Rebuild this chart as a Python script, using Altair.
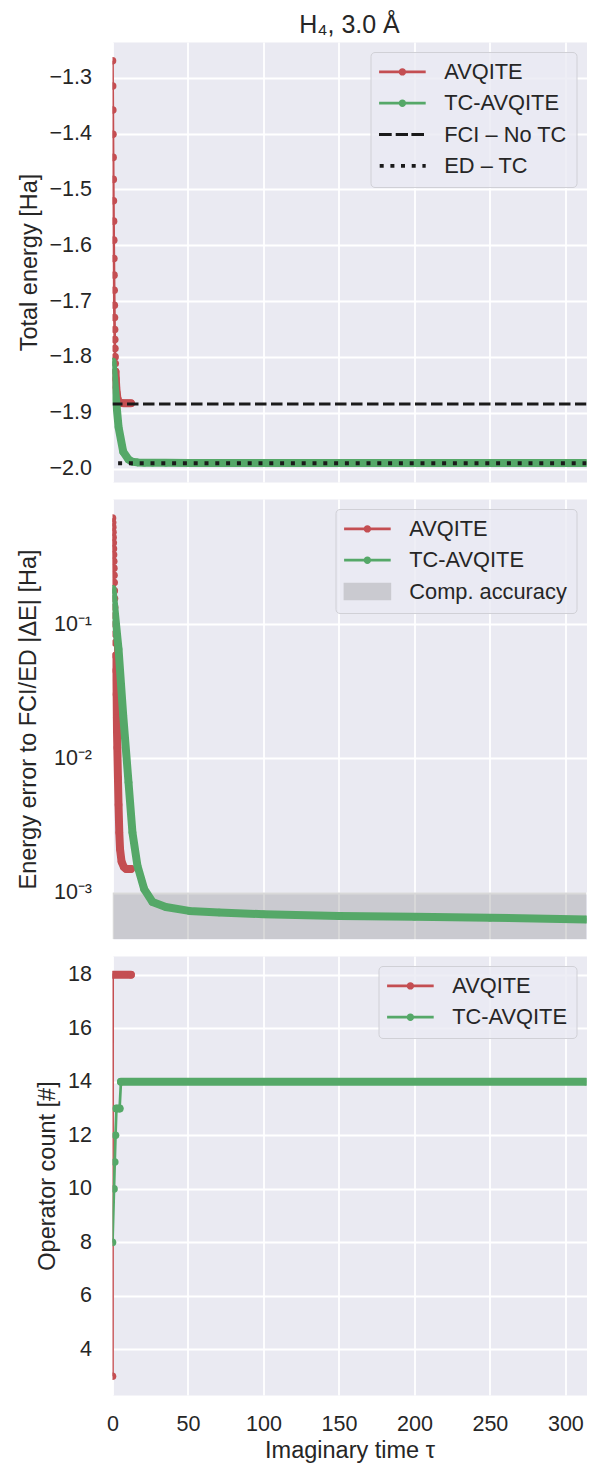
import altair as alt
import pandas as pd

FONT = "Liberation Sans"
INK = "#262626"
RED = "#C44E52"
GREEN = "#55A868"
BG = "#EAEAF2"

# Reference energies (Ha)
FCI_NO_TC = -1.8844
ED_TC = -1.9905

# AVQITE trajectory: imaginary time and total energy
avq_tau = [0.0, 0.1, 0.2, 0.3, 0.4, 0.5, 0.6, 0.7, 0.8, 0.9, 1.0, 1.1, 1.2, 1.3, 1.4, 1.5, 1.6, 1.7, 1.8,
           2.0, 2.2, 2.5, 2.8, 3.2, 3.6, 4.0, 4.5, 5.0, 6.0, 7.5, 9.0, 10.5, 12.2]
avq_energy = [-1.2695, -1.3149, -1.3579, -1.4014, -1.4427, -1.4821, -1.5204, -1.5568, -1.5909, -1.6237,
              -1.6536, -1.6805, -1.7074, -1.7294, -1.7509, -1.7688, -1.7849, -1.8000, -1.8120,
              -1.8264, -1.8394, -1.8544, -1.8644, -1.8724, -1.8772, -1.8799, -1.8816, -1.8823,
              -1.8827, -1.88285, -1.8829, -1.8829, -1.8829]
# 0 = sparse markers, 1 = densely sampled stretch
avq_seg = [0] * 19 + [1] * 14

# TC-AVQITE trajectory
tc_tau = [0.0, 4.0, 7.1, 10.6, 13.2, 16.5, 21.0, 26.5, 35.3, 50.8, 70.6, 100.0, 150.0, 200.0, 250.0, 314.0]
tc_energy = [-1.8085, -1.9254, -1.9697, -1.98387, -1.98769, -1.98891, -1.98944, -1.98965, -1.98972,
             -1.98977, -1.98979, -1.98981, -1.98983, -1.98984, -1.98985, -1.98987]
tc_seg = [1] * 16

# Operator counts
avq_ops_tau = [0.0, 0.1, 12.2]
avq_ops = [3, 18, 18]
avq_ops_seg = [0, 1, 1]
tc_ops_tau = [0.0, 1.0, 1.5, 2.0, 2.6, 4.7, 5.6, 314.0]
tc_ops = [8, 10, 11, 12, 13, 13, 14, 14]
tc_ops_seg = [0, 0, 0, 0, 1, 1, 2, 2]

# Accuracy band in the error panel
acc_lo = 1e-5
acc_hi = 1e-3

TAU_MAX = 314
W = 474

# Legend glyphs (custom symbol paths, unit = sqrt(size)/2 px)
LINE_DOT = ("M-2.33,-0.135L2.33,-0.135L2.33,0.135L-2.33,0.135Z "
            "M0.37,0A0.37 0.37 0 1 1 -0.37,0A0.37 0.37 0 1 1 0.37,0Z")
DASHED = ("M-2.34,-0.15L-1.07,-0.15L-1.07,0.15L-2.34,0.15Z "
          "M-0.67,-0.15L0.56,-0.15L0.56,0.15L-0.67,0.15Z "
          "M0.9,-0.15L2.16,-0.15L2.16,0.15L0.9,0.15Z")
DOTTED = ("M-2.27,-0.19L-1.87,-0.19L-1.87,0.19L-2.27,0.19Z "
          "M-1.2,-0.19L-0.8,-0.19L-0.8,0.19L-1.2,0.19Z "
          "M-0.14,-0.19L0.26,-0.19L0.26,0.19L-0.14,0.19Z "
          "M0.93,-0.19L1.33,-0.19L1.33,0.19L0.93,0.19Z "
          "M2.0,-0.19L2.33,-0.19L2.33,0.19L2.0,0.19Z")
RECT = "M-2.38,-0.87L2.38,-0.87L2.38,0.87L-2.38,0.87Z"


def x_enc(show):
    if show:
        axis = alt.Axis(values=[0, 50, 100, 150, 200, 250, 300], title="Imaginary time τ",
                        labelPadding=18, titlePadding=4)
    else:
        axis = alt.Axis(values=[0, 50, 100, 150, 200, 250, 300], labels=False, title=None)
    return alt.X("tau:Q", scale=alt.Scale(domain=[0, TAU_MAX], nice=False, zero=False), axis=axis)


def series(df, color, x, y):
    base = alt.Chart(df).encode(x=x, y=y)
    thin = base.mark_line(color=color, strokeWidth=2.7, clip=True)
    band = base.transform_filter("datum.seg > 0").mark_line(
        color=color, strokeWidth=8, strokeCap="round", strokeJoin="round", clip=True
    ).encode(detail="seg:N")
    dots = base.mark_point(filled=True, size=58, color=color, opacity=1, shape="circle", clip=True)
    return [thin, band, dots]


def legend_layer(names, colors, shapes, x, y):
    df = pd.DataFrame({"entry": names, "tau": [1.0] * len(names), "val": [1.0] * len(names)})
    leg = alt.Legend(title=None, orient="top-right", offset=10, padding=9, cornerRadius=4,
                     fillColor="rgba(234,234,242,0.8)", strokeColor="#D0D0D6",
                     labelFont=FONT, labelFontSize=21.8, labelColor=INK,
                     symbolSize=400, symbolOffset=12, labelOffset=31, rowPadding=8.3,
                     symbolStrokeWidth=0)
    return alt.Chart(df).transform_filter("false").mark_point(filled=True, opacity=1, size=400).encode(
        x=x, y=y,
        color=alt.Color("entry:N", scale=alt.Scale(domain=names, range=colors), legend=leg),
        shape=alt.Shape("entry:N", scale=alt.Scale(domain=names, range=shapes), legend=leg),
    )


avq = pd.DataFrame({"tau": avq_tau, "E": avq_energy, "seg": avq_seg})
avq["err"] = (avq["E"] - FCI_NO_TC).abs()
tc = pd.DataFrame({"tau": tc_tau, "E": tc_energy, "seg": tc_seg})
tc["err"] = (tc["E"] - ED_TC).abs()

# ---- Panel 1: total energy
y1 = alt.Y("val:Q", scale=alt.Scale(domain=[-2.024, -1.236], nice=False, zero=False),
           axis=alt.Axis(values=[-2.0, -1.9, -1.8, -1.7, -1.6, -1.5, -1.4, -1.3],
                         labelExpr="replace(format(datum.value, '.1f'), '-', '−')",
                         title="Total energy [Ha]"))
xa = x_enc(False)
p1_layers = []
p1_layers += series(avq.rename(columns={"E": "val"}), RED, xa, y1)
p1_layers += series(tc.rename(columns={"E": "val"}), GREEN, xa, y1)
p1_layers.append(alt.Chart(pd.DataFrame({"val": [FCI_NO_TC]})).mark_rule(
    color="#1a1a1a", strokeWidth=3, strokeDash=[11.5, 4.5], clip=True).encode(y=y1))
p1_layers.append(alt.Chart(pd.DataFrame({"val": [ED_TC]})).mark_rule(
    color="#1a1a1a", strokeWidth=4, strokeDash=[4, 6.8], clip=True).encode(y=y1))
p1_layers.append(legend_layer(["AVQITE", "TC-AVQITE", "FCI – No TC", "ED – TC"],
                              [RED, GREEN, "#1a1a1a", "#1a1a1a"],
                              [LINE_DOT, LINE_DOT, DASHED, DOTTED], xa, y1))
p1 = alt.layer(*p1_layers).properties(
    width=W, height=440,
    title=alt.TitleParams("H₄, 3.0 Å", font=FONT, fontSize=25, fontWeight="normal",
                          color=INK, anchor="middle", offset=4),
)

# ---- Panel 2: energy error (log)
log_labels = ("datum.value == 0.1 ? '10⁻¹' : datum.value == 0.01 ? '10⁻²' : "
              "datum.value == 0.001 ? '10⁻³' : ''")
y2 = alt.Y("val:Q", scale=alt.Scale(type="log", domain=[4.51e-4, 0.853], nice=False),
           axis=alt.Axis(values=[0.001, 0.01, 0.1], labelExpr=log_labels, titlePadding=13,
                         title="Energy error to FCI/ED |ΔE| [Ha]"))
xb = x_enc(False)
band = alt.Chart(pd.DataFrame({"lo": [acc_lo], "val": [acc_hi]})).mark_rect(
    color="#808080", opacity=0.3, clip=True).encode(
    x=alt.datum(0), x2=alt.datum(TAU_MAX), y=y2, y2="lo:Q")
p2_layers = [band]
p2_layers += series(avq.rename(columns={"err": "val"}), RED, xb, y2)
p2_layers += series(tc.rename(columns={"err": "val"}), GREEN, xb, y2)
p2_layers.append(legend_layer(["AVQITE", "TC-AVQITE", "Comp. accuracy"],
                              [RED, GREEN, "#CACAD0"],
                              [LINE_DOT, LINE_DOT, RECT], xb, y2))
p2 = alt.layer(*p2_layers).properties(width=W, height=440)

# ---- Panel 3: operator count
y3 = alt.Y("val:Q", scale=alt.Scale(domain=[2.3, 18.7], nice=False, zero=False),
           axis=alt.Axis(values=[4, 6, 8, 10, 12, 14, 16, 18], title="Operator count [#]"))
xc = x_enc(True)
avq_ops_df = pd.DataFrame({"tau": avq_ops_tau, "val": avq_ops, "seg": avq_ops_seg})
tc_ops_df = pd.DataFrame({"tau": tc_ops_tau, "val": tc_ops, "seg": tc_ops_seg})
p3_layers = []
p3_layers += series(avq_ops_df, RED, xc, y3)
p3_layers += series(tc_ops_df, GREEN, xc, y3)
p3_layers.append(legend_layer(["AVQITE", "TC-AVQITE"], [RED, GREEN], [LINE_DOT, LINE_DOT], xc, y3))
p3 = alt.layer(*p3_layers).properties(width=W, height=439)

chart = alt.vconcat(p1, p2, p3, spacing=15).resolve_scale(
    x="independent", y="independent", color="independent", shape="independent"
).properties(
    padding={"left": 15.5, "top": 12, "right": 5, "bottom": 5}
).configure_view(
    fill=BG, stroke="transparent"
).configure_axis(
    grid=True, gridColor="white", gridWidth=1.8, domain=False, ticks=False,
    labelFont=FONT, labelFontSize=21.5, labelColor=INK, labelPadding=21, labelFlush=False,
    labelOverlap=False,
    titleFont=FONT, titleFontSize=23.5, titleColor=INK, titleFontWeight="normal", titlePadding=8,
)

chart.save("out.html", embed_options={"renderer": "svg", "actions": False})
